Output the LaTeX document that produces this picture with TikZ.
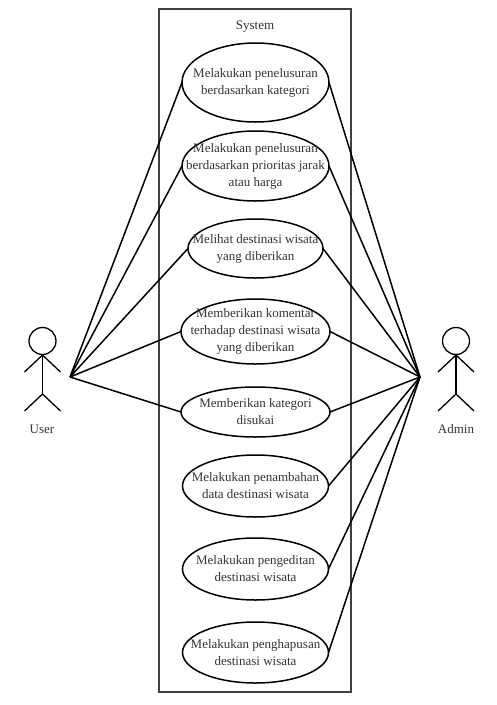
\documentclass[tikz,border=0pt]{standalone}
\usepackage{fontspec}
\setmainfont{Liberation Serif}
\usetikzlibrary{positioning,shapes.geometric}

\begin{document}
\begin{tikzpicture}[
  x=1pt, y=-1pt,
  ucase/.style={draw, ellipse, inner xsep=-30pt, inner ysep=-20pt, outer sep=0pt, minimum width=147pt, align=center,
                line width=1.5pt, text=black!80, font=\fontsize{13}{17}\selectfont},
  lbl/.style={inner sep=0pt, text=black!80, font=\fontsize{13}{15}\selectfont},
  conn/.style={line width=1.5pt},
  stick/.style={line width=1.3pt},
  pics/actor/.style={code={
    \node[draw, circle, line width=1.3pt, minimum size=27pt, inner sep=0pt] (-head) at (0,-36) {};
    \coordinate (-hip) at (0,17);
    \draw[stick] (-head) -- (-hip);
    \draw[stick] (-18,-5) -- (0,-22) -- (18,-5);
    \draw[stick] (-18,34) -- (-hip) -- (18,34);
  }}
]
\useasboundingbox (0,0) rectangle (496,705);
\node[draw=black!75, line width=1.8pt, minimum width=192pt, minimum height=683pt, inner sep=0pt] (sys) at (255,350.5) {};
\node[lbl] (title) at (255,27) {System};

\node[ucase, minimum height=79pt] (c1) at (255.5,82.5) {Melakukan penelusuran\\berdasarkan kategori};
\node[ucase, minimum height=70pt, below=9pt of c1] (c2) {Melakukan penelusuran\\berdasarkan prioritas jarak\\atau harga};
\node[ucase, minimum width=135pt, minimum height=59pt, below=18pt of c2] (c3) {Melihat destinasi wisata\\yang diberikan};
\node[ucase, minimum width=149pt, minimum height=65pt, below=21pt of c3] (c4) {Memberikan komentar\\terhadap destinasi wisata\\yang diberikan};
\node[ucase, minimum width=149pt, minimum height=50pt, below=23pt of c4] (c5) {Memberikan kategori\\disukai};
\node[ucase, minimum width=146pt, minimum height=62pt, below=18pt of c5] (c6) {Melakukan penambahan\\data destinasi wisata};
\node[ucase, minimum width=146pt, minimum height=62pt, below=21pt of c6] (c7) {Melakukan pengeditan\\destinasi wisata};
\node[ucase, minimum width=146pt, minimum height=61pt, below=22pt of c7] (c8) {Melakukan penghapusan\\destinasi wisata};

\pic (user) at (42.5,377) {actor};
\pic (admin) at (456,377) {actor};
\node[lbl] (ulbl) at (42,429) {User};
\node[lbl] (albl) at (456,429) {Admin};

\coordinate (uh) at (70,377);
\coordinate (ah) at (420,377);

\draw[conn] (uh) -- (c1.west);
\draw[conn] (uh) -- (c2.west);
\draw[conn] (uh) -- (c3.west);
\draw[conn] (uh) -- (c4.west);
\draw[conn] (uh) -- (c5.west);

\draw[conn] (ah) -- (c1.east);
\draw[conn] (ah) -- (c2.east);
\draw[conn] (ah) -- (c3.east);
\draw[conn] (ah) -- (c4.east);
\draw[conn] (ah) -- (c5.east);
\draw[conn] (ah) -- (c6.east);
\draw[conn] (ah) -- (c7.east);
\draw[conn] (ah) -- (c8.east);
\end{tikzpicture}
\end{document}
